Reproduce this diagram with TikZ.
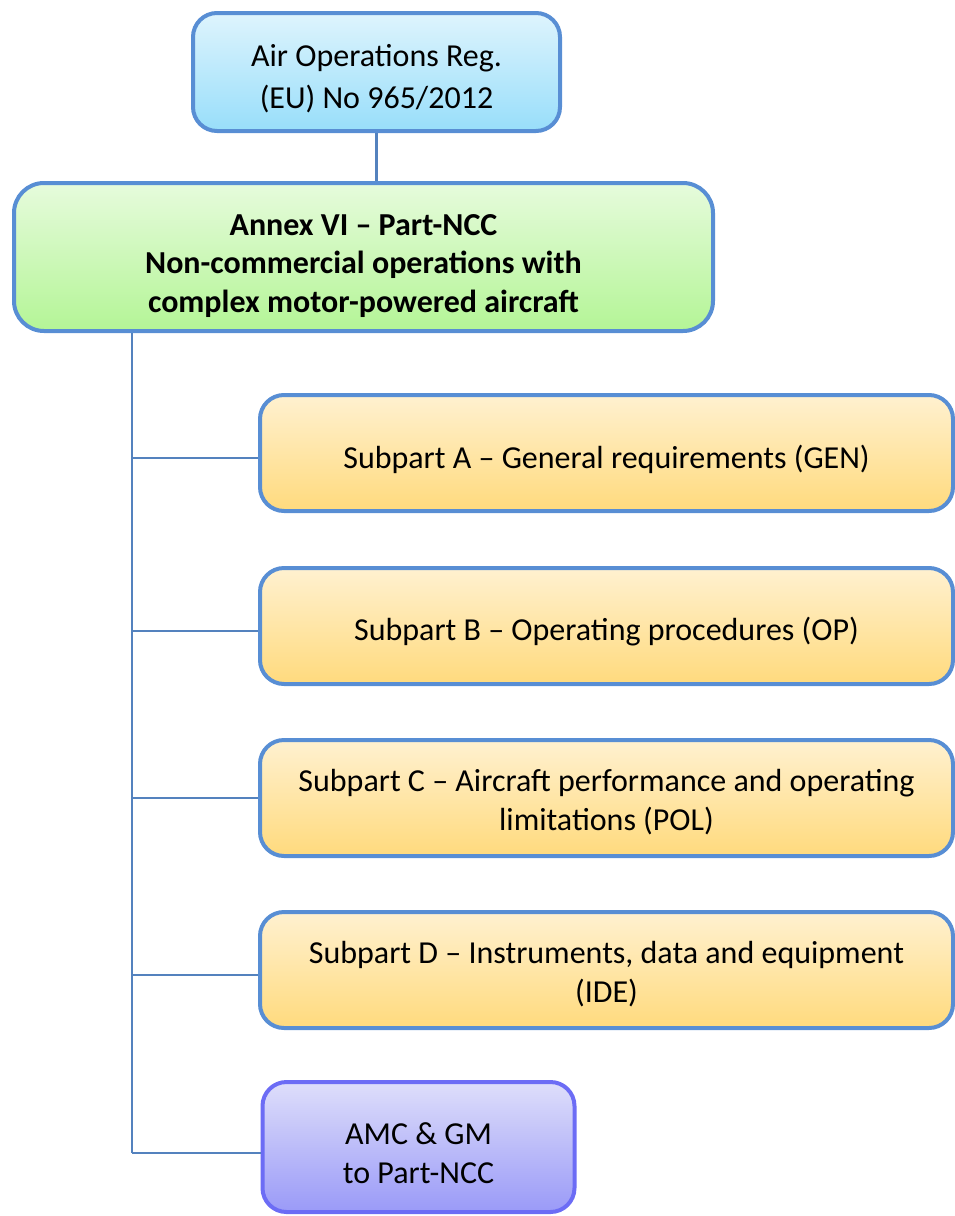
\documentclass[tikz,border=0pt]{standalone}
\usepackage{fontspec}
\setmainfont{Carlito}
\begin{document}
\begin{tikzpicture}[x=1pt,y=-1pt,
  box/.style={draw=bordblue, line width=4pt, rounded corners=24pt, inner sep=0pt},
  txt/.style={align=center, font=\fontsize{32}{38.5}\selectfont, inner sep=0pt},
  conn/.style={draw=connblue, line width=2.2pt}]
\definecolor{bordblue}{RGB}{88,142,212}
\definecolor{connblue}{RGB}{84,130,190}
\definecolor{bluetop}{RGB}{222,244,253}
\definecolor{bluebot}{RGB}{152,222,250}
\definecolor{greentop}{RGB}{230,251,220}
\definecolor{greenbot}{RGB}{180,245,150}
\definecolor{orangetop}{RGB}{255,241,208}
\definecolor{orangebot}{RGB}{255,218,125}
\definecolor{purptop}{RGB}{222,222,250}
\definecolor{purpbot}{RGB}{154,154,248}
\definecolor{purpbord}{RGB}{108,108,245}
\useasboundingbox (0,0) rectangle (955,1216);
\node[box, top color=bluetop, bottom color=bluebot, minimum width=367pt, minimum height=118pt,
  label={[txt, yshift=-7pt, font=\fontsize{32}{42}\selectfont]center:Air Operations Reg.\\(EU) No 965/2012}] (reg) at (376.5,72) {};
\node[box, top color=greentop, bottom color=greenbot, minimum width=699pt, minimum height=148pt,
  rounded corners=30pt,
  label={[txt, yshift=-9pt, font=\bfseries\fontsize{32}{38.5}\selectfont]center:Annex VI -- Part-NCC\\Non-commercial operations with\\complex motor-powered aircraft}] (ncc) at (363.5,257) {};
\node[box, top color=orangetop, bottom color=orangebot, minimum width=693pt, minimum height=116pt,
  label={[txt, yshift=-6pt]center:Subpart A -- General requirements (GEN)}] (sa) at (606.5,453) {};
\node[box, top color=orangetop, bottom color=orangebot, minimum width=693pt, minimum height=116pt,
  label={[txt, yshift=-6pt]center:Subpart B -- Operating procedures (OP)}] (sb) at (606.5,626) {};
\node[box, top color=orangetop, bottom color=orangebot, minimum width=693pt, minimum height=116pt,
  label={[txt, yshift=-4pt]center:Subpart C -- Aircraft performance and operating\\limitations (POL)}] (sc) at (606.5,798) {};
\node[box, top color=orangetop, bottom color=orangebot, minimum width=693pt, minimum height=116pt,
  label={[txt, yshift=-4pt]center:Subpart D -- Instruments, data and equipment\\(IDE)}] (sd) at (606.5,970) {};
\node[box, draw=purpbord, top color=purptop, bottom color=purpbot, minimum width=312pt, minimum height=130pt,
  label={[txt, yshift=-6pt]center:AMC \& GM\\to Part-NCC}] (amc) at (418.5,1147) {};
\coordinate (t) at (132,0);
\foreach \n/\d in {sa/5,sb/5,sc/0,sd/5,amc/6}
  \coordinate (e\n) at ([yshift=-\d pt]\n.west);
\draw[conn] (reg.south) -- (reg.south |- ncc.north);
\draw[conn] (t |- ncc.south) -- (t |- eamc);
\foreach \n in {sa,sb,sc,sd,amc}
  \draw[conn] (t |- e\n) -- (e\n);
\end{tikzpicture}
\end{document}
